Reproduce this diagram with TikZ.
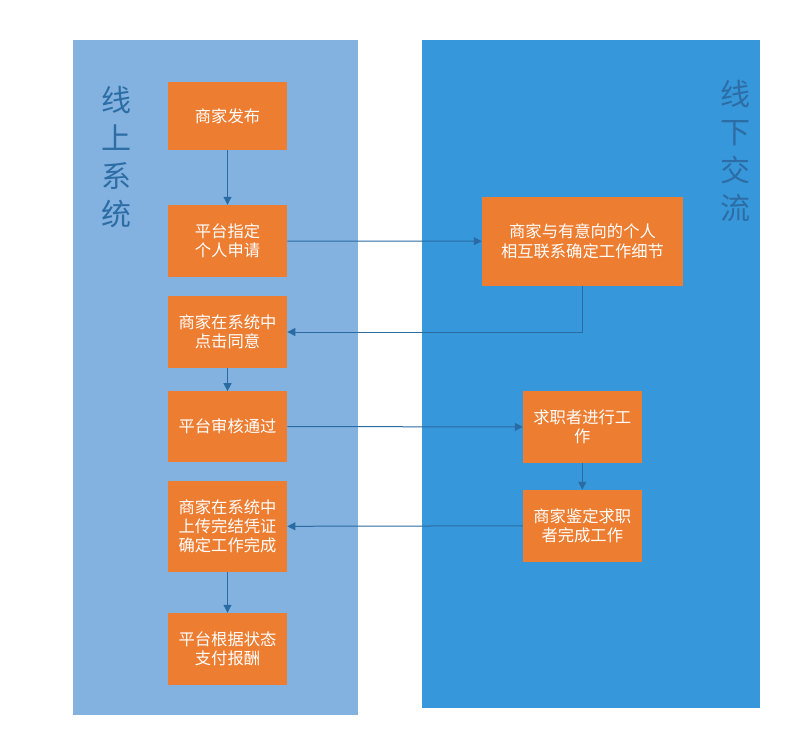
\documentclass[tikz,border=0pt]{standalone}
\usepackage{fontspec}
\setmainfont{Noto Sans CJK SC}
\usetikzlibrary{arrows.meta}
\definecolor{leftbg}{HTML}{83B2E0}
\definecolor{rightbg}{HTML}{3797DB}
\definecolor{boxorange}{HTML}{ED7D31}
\definecolor{arrowblue}{HTML}{2A6BA3}
\definecolor{titleblue}{HTML}{2D6DA5}
\tikzset{
  panel/.style={draw=none, inner sep=0pt},
  stepbox/.style={fill=boxorange, draw=none, text=white, inner sep=0pt, align=center,
    font=\fontsize{16.3}{19.3}\selectfont},
  titletext/.style={text=titleblue, align=center, inner sep=0pt,
    font=\fontsize{30}{38}\selectfont},
  flow/.style={draw=arrowblue, line width=1pt, -{Triangle[length=8pt,width=8pt]}}
}
\begin{document}
\begin{tikzpicture}[x=1pt,y=-1pt]
\useasboundingbox (0,0) rectangle (797,751);
\fill[white] (0,0) rectangle (797,751);
% panels
\fill[leftbg] (73,40) rectangle (357.5,714.5);
\fill[rightbg] (422,40) rectangle (760,707.5);
% titles
\node[titletext] (tl) at (116,157.5) {线\\上\\系\\统};
\node[titletext] (tr) at (735,151) {线\\下\\交\\流};
% left boxes
\node[stepbox, minimum width=119.3pt, minimum height=67.7pt] (b1) at (227.5,116) {商家发布};
\node[stepbox, minimum width=119.3pt, minimum height=72pt] (b2) at (227.5,241) {平台指定\\个人申请};
\node[stepbox, minimum width=119.3pt, minimum height=71.7pt] (b3) at (227.5,332) {商家在系统中\\点击同意};
\node[stepbox, minimum width=119.3pt, minimum height=70.3pt] (b4) at (227.5,426.5) {平台审核通过};
\node[stepbox, minimum width=119.3pt, minimum height=90.7pt] (b5) at (227.5,526.3) {商家在系统中\\上传完结凭证\\确定工作完成};
\node[stepbox, minimum width=119.3pt, minimum height=72pt] (b6) at (227.5,649) {平台根据状态\\支付报酬};
% right boxes
\node[stepbox, minimum width=201pt, minimum height=88.7pt] (r1) at (582.5,241.3) {商家与有意向的个人\\相互联系确定工作细节};
\node[stepbox, minimum width=118.7pt, minimum height=71.3pt] (r2) at (582.3,427) {求职者进行工\\作};
\node[stepbox, minimum width=118.7pt, minimum height=71.7pt] (r3) at (582.3,525.8) {商家鉴定求职\\者完成工作};
% connectors
\draw[flow] (b1) -- (b2);
\draw[flow] (b2) -- (r1);
\draw[flow] (r1.south) |- (b3.east);
\draw[flow] (b3) -- (b4);
\draw[flow] (b4) -- (r2);
\draw[flow] (r2) -- (r3);
\draw[flow] (r3.west) -- (b5.east);
\draw[flow] (b5) -- (b6);
\end{tikzpicture}
\end{document}
